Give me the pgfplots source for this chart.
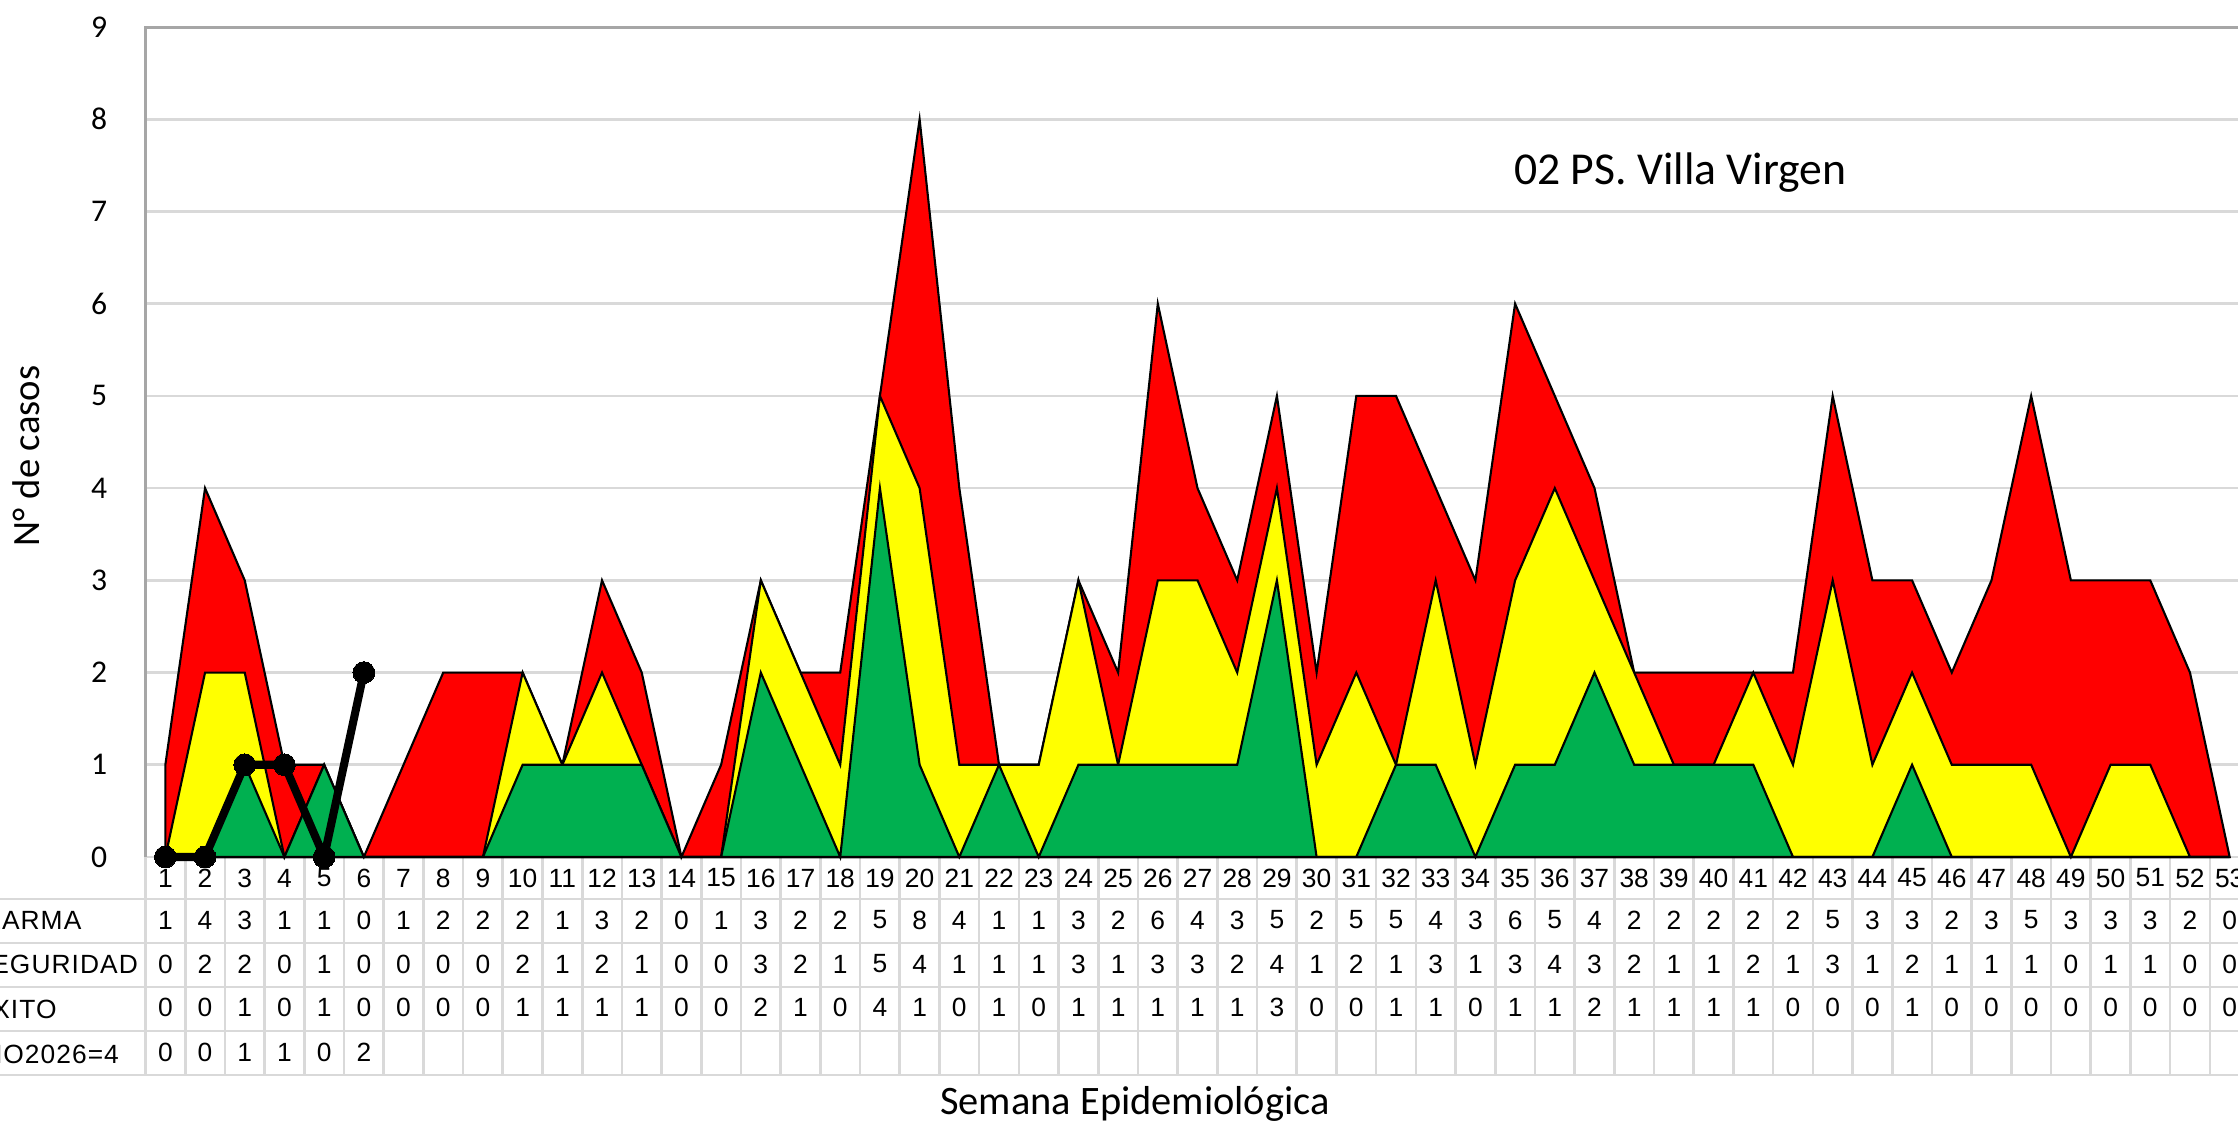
\documentclass[border=0pt]{standalone}
\usepackage{pgfplots}
\pgfplotsset{compat=1.18}
\usepackage{pgfplotstable}
\usepackage{fontspec}
\setmainfont{Carlito}
\newfontfamily\tabfont{Liberation Sans}
\newfontfamily\labfont[LetterSpace=4]{Liberation Sans}
\definecolor{cred}{HTML}{FF0000}
\definecolor{cyel}{HTML}{FFFF00}
\definecolor{cgrn}{HTML}{00B050}
\definecolor{gridc}{HTML}{D9D9D9}
\definecolor{axc}{HTML}{A6A6A6}

\pgfplotstableread{
w A S E
1 1 0 0
2 4 2 0
3 3 2 1
4 1 0 0
5 1 1 1
6 0 0 0
7 1 0 0
8 2 0 0
9 2 0 0
10 2 2 1
11 1 1 1
12 3 2 1
13 2 1 1
14 0 0 0
15 1 0 0
16 3 3 2
17 2 2 1
18 2 1 0
19 5 5 4
20 8 4 1
21 4 1 0
22 1 1 1
23 1 1 0
24 3 3 1
25 2 1 1
26 6 3 1
27 4 3 1
28 3 2 1
29 5 4 3
30 2 1 0
31 5 2 0
32 5 1 1
33 4 3 1
34 3 1 0
35 6 3 1
36 5 4 1
37 4 3 2
38 2 2 1
39 2 1 1
40 2 1 1
41 2 2 1
42 2 1 0
43 5 3 0
44 3 1 0
45 3 2 1
46 2 1 0
47 3 1 0
48 5 1 0
49 3 0 0
50 3 1 0
51 3 1 0
52 2 0 0
53 0 0 0
}\corr

\pgfplotstableread{
w Y
1 0
2 0
3 1
4 1
5 0
6 2
}\anio

\newcommand\tabf{\tabfont\fontsize{7.5}{9}\selectfont}
\newcommand\labf{\labfont\fontsize{7.5}{9}\selectfont}

\begin{document}
\begin{tikzpicture}
\useasboundingbox (0,0) rectangle (22.38cm,11.21cm);
\clip (0,0) rectangle (22.38cm,11.21cm);
\begin{axis}[
  at={(1.455cm,2.64cm)}, anchor=south west,
  scale only axis, width=21.04cm, height=8.299cm,
  xmin=0.5, xmax=53.5, ymin=0, ymax=9,
  clip=false,
  axis line style={draw=none},
  ytick={0,...,9}, xtick={1,...,53},
  major tick length=0pt,
  ymajorgrids, grid style={gridc, line width=0.75pt},
  /pgf/number format/assume math mode=true,
  yticklabel style={font=\fontsize{9}{10}\selectfont, xshift=-0.26cm},
  xticklabel style={font=\tabf, anchor=center, yshift=-0.21cm},
]
% table grid
\pgfplotsinvokeforeach{0.5,1.5,...,53.5}{
  \draw[gridc, line width=0.75pt] (axis cs:#1,0) -- (axis cs:#1,-2.364);
}
\pgfplotsinvokeforeach{-0.455,-0.933,-1.410,-1.887,-2.364}{
  \draw[gridc, line width=0.75pt] (axis cs:-6,#1) -- (axis cs:56,#1);
}
% areas
\addplot[fill=cred, draw=black, line width=0.6pt] table[x=w,y=A]{\corr} \closedcycle;
\addplot[fill=cyel, draw=black, line width=0.6pt] table[x=w,y=S]{\corr} \closedcycle;
\addplot[fill=cgrn, draw=black, line width=0.6pt] table[x=w,y=E]{\corr} \closedcycle;
% axis lines
\draw[axc, line width=0.9pt] (axis cs:0.5,0) -- (axis cs:0.5,9) -- (axis cs:53.5,9);
% table values
\addplot[draw=none, mark=none, point meta=explicit symbolic,
  nodes near coords={\pgfplotspointmeta}, nodes near coords align={center},
  every node near coord/.append style={anchor=center, font=\tabf, inner sep=0pt}]
  table[x=w, y expr=-0.683, meta=A]{\corr};
\addplot[draw=none, mark=none, point meta=explicit symbolic,
  nodes near coords={\pgfplotspointmeta}, nodes near coords align={center},
  every node near coord/.append style={anchor=center, font=\tabf, inner sep=0pt}]
  table[x=w, y expr=-1.160, meta=S]{\corr};
\addplot[draw=none, mark=none, point meta=explicit symbolic,
  nodes near coords={\pgfplotspointmeta}, nodes near coords align={center},
  every node near coord/.append style={anchor=center, font=\tabf, inner sep=0pt}]
  table[x=w, y expr=-1.627, meta=E]{\corr};
\addplot[draw=none, mark=none, point meta=explicit symbolic,
  nodes near coords={\pgfplotspointmeta}, nodes near coords align={center},
  every node near coord/.append style={anchor=center, font=\tabf, inner sep=0pt}]
  table[x=w, y expr=-2.115, meta=Y]{\anio};
% 2026 line
\addplot[black, line width=2.3pt, line join=round, mark=*, mark size=3.1pt,
  mark options={fill=black, line width=0pt}] table[x=w,y=Y]{\anio};
\node[font=\fontsize{13}{15}\selectfont] at (axis cs:39.16,7.42) {02 PS. Villa Virgen};
\end{axis}
\node[rotate=90, font=\fontsize{11}{13}\selectfont] at (0.26cm,6.65cm) {N° de casos};
\node[font=\fontsize{11.5}{13}\selectfont] at (11.35cm,0.17cm) {Semana Epidemiológica};
\node[anchor=west, font=\labf, inner sep=0pt] at (-0.33cm,2.01cm) {ALARMA};
\node[anchor=west, font=\labf, inner sep=0pt] at (-0.28cm,1.57cm) {SEGURIDAD};
\node[anchor=west, font=\labf, inner sep=0pt] at (-0.27cm,1.14cm) {ÉXITO};
\node[anchor=west, font=\labf, inner sep=0pt] at (-0.36cm,0.69cm) {AÑO2026=4};
\end{tikzpicture}
\end{document}
